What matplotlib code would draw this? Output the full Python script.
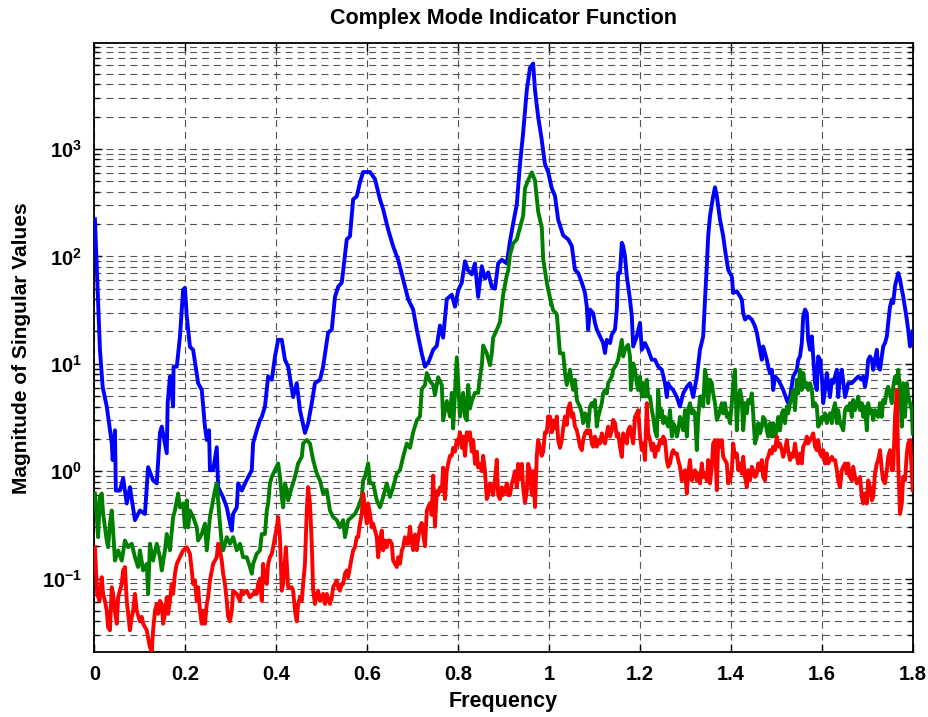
import numpy as np
import matplotlib
matplotlib.use("Agg")
import matplotlib.pyplot as plt

# (frequency, magnitude) samples of the three singular-value curves
blue_pts = [
    (0.001, 222), (0.012, 13.5), (0.018, 6.1), (0.027, 4.0), (0.038, 1.83), (0.040, 1.27),
    (0.045, 2.4), (0.047, 0.66), (0.056, 0.66), (0.063, 0.86), (0.071, 0.50), (0.078, 0.71),
    (0.089, 0.35), (0.100, 0.43), (0.111, 0.40), (0.118, 1.09), (0.129, 0.82), (0.137, 0.77),
    (0.144, 2.27), (0.148, 2.6), (0.159, 1.47), (0.161, 4.3), (0.166, 7.6), (0.173, 4.0),
    (0.174, 9.4), (0.181, 9.4), (0.188, 17.8), (0.195, 49), (0.199, 51), (0.203, 27.5),
    (0.210, 14.4), (0.217, 13.5), (0.228, 6.6), (0.236, 5.7), (0.243, 2.6), (0.247, 1.95),
    (0.252, 2.4), (0.254, 1.02), (0.261, 1.02), (0.269, 1.67), (0.272, 0.71), (0.283, 0.57),
    (0.291, 0.46), (0.298, 0.33), (0.302, 0.28), (0.305, 0.40), (0.313, 0.46), (0.316, 0.77),
    (0.324, 0.66), (0.331, 0.77), (0.346, 1.02), (0.349, 1.83), (0.357, 2.4), (0.364, 3.0),
    (0.368, 3.2), (0.375, 4.0), (0.382, 7.6), (0.390, 7.1), (0.397, 11.6), (0.404, 16.7),
    (0.412, 16.7), (0.419, 10.9), (0.426, 9.4), (0.437, 4.9), (0.445, 6.6), (0.452, 3.7),
    (0.463, 2.27), (0.470, 2.8), (0.478, 4.3), (0.485, 6.6), (0.496, 7.1), (0.503, 9.4),
    (0.514, 19.5), (0.522, 20.8), (0.529, 42), (0.536, 52), (0.544, 57), (0.555, 144),
    (0.562, 154), (0.569, 340), (0.577, 362), (0.584, 490), (0.591, 610), (0.599, 610),
    (0.606, 610), (0.617, 525), (0.628, 340), (0.635, 275), (0.646, 178), (0.657, 124),
    (0.668, 93), (0.679, 61), (0.690, 40), (0.701, 32), (0.709, 20.8), (0.720, 12.4),
    (0.727, 9.4), (0.735, 10.4), (0.745, 13.5), (0.753, 14.7), (0.760, 22.7), (0.767, 17.5),
    (0.775, 40), (0.786, 44), (0.793, 34), (0.800, 48), (0.808, 57), (0.815, 90),
    (0.822, 74), (0.830, 68), (0.837, 86), (0.844, 42), (0.852, 81), (0.859, 62),
    (0.866, 71), (0.874, 52), (0.881, 50), (0.888, 86), (0.896, 93), (0.907, 86),
    (0.914, 138), (0.921, 203), (0.929, 305), (0.936, 720), (0.943, 1420), (0.951, 3540),
    (0.958, 5700), (0.965, 6250), (0.969, 3540), (0.976, 1990), (0.983, 1290), (0.991, 720),
    (0.998, 610), (1.006, 430), (1.013, 365), (1.020, 220), (1.031, 157), (1.042, 144),
    (1.050, 125), (1.057, 75), (1.064, 70), (1.072, 57), (1.079, 45.7), (1.083, 34),
    (1.086, 20.8), (1.090, 32), (1.097, 29.6), (1.101, 24), (1.105, 20.8), (1.112, 18),
    (1.119, 15.6), (1.123, 12.6), (1.127, 16.7), (1.134, 15.6), (1.138, 18.7), (1.145, 20.8),
    (1.149, 32), (1.152, 70), (1.156, 70), (1.160, 134), (1.163, 125), (1.167, 100),
    (1.171, 65), (1.178, 39.6), (1.182, 27.6), (1.185, 14.5), (1.193, 18), (1.200, 24),
    (1.204, 13.5), (1.211, 15.6), (1.218, 13.5), (1.226, 10.9), (1.233, 10.9), (1.240, 9.4),
    (1.248, 8.8), (1.255, 6.6), (1.259, 4.9), (1.262, 6.6), (1.266, 6.1), (1.273, 5.7),
    (1.281, 4.9), (1.288, 4.0), (1.295, 5.3), (1.303, 6.1), (1.310, 6.6), (1.317, 4.9),
    (1.325, 7.6), (1.332, 13.5), (1.339, 18), (1.343, 39.6), (1.347, 81), (1.350, 155),
    (1.354, 237), (1.361, 365), (1.365, 440), (1.369, 365), (1.376, 220), (1.383, 155),
    (1.387, 116), (1.394, 75), (1.402, 65), (1.405, 45.7), (1.413, 47.3), (1.420, 42.5),
    (1.424, 39.6), (1.427, 29.6), (1.431, 25.8), (1.438, 27.6), (1.446, 25.8), (1.453, 22.3),
    (1.457, 19.4), (1.464, 13.5), (1.468, 10.9), (1.471, 14.5), (1.475, 12.6), (1.479, 10.9),
    (1.482, 9.4), (1.486, 8.2), (1.490, 8.8), (1.493, 5.7), (1.497, 7.6), (1.504, 7.1),
    (1.508, 6.6), (1.512, 6.1), (1.515, 5.7), (1.523, 4.6), (1.526, 4.3), (1.530, 4.9),
    (1.537, 7.6), (1.545, 8.8), (1.548, 10.9), (1.552, 11.7), (1.556, 15.6), (1.559, 27.6),
    (1.563, 32), (1.567, 29.6), (1.570, 16.7), (1.574, 13.5), (1.578, 18), (1.581, 11.7),
    (1.585, 6.6), (1.589, 5.7), (1.592, 11.7), (1.596, 10.9), (1.600, 7.6), (1.603, 4.3),
    (1.607, 5.7), (1.611, 8.2), (1.614, 6.6), (1.618, 4.9), (1.622, 7.1), (1.625, 6.6),
    (1.633, 8.8), (1.636, 4.9), (1.640, 7.6), (1.644, 8.8), (1.651, 4.9), (1.655, 5.7),
    (1.658, 6.6), (1.666, 6.6), (1.673, 7.1), (1.680, 7.6), (1.688, 7.1), (1.691, 7.6),
    (1.695, 6.1), (1.699, 7.6), (1.702, 10.9), (1.706, 11.7), (1.710, 10.9), (1.713, 8.8),
    (1.721, 13.5), (1.724, 9.4), (1.728, 8.8), (1.732, 11.7), (1.735, 14.5), (1.739, 15.6),
    (1.743, 18), (1.746, 24), (1.750, 34), (1.754, 39.6), (1.757, 36.8), (1.761, 53),
    (1.768, 70), (1.772, 61), (1.776, 49), (1.779, 42.5), (1.787, 25.8), (1.790, 20.8),
    (1.794, 14.5), (1.798, 16.7), (1.800, 20),
]

green_pts = [
    (0.001, 0.62), (0.005, 0.374), (0.008, 0.243), (0.012, 0.575), (0.016, 0.62), (0.019, 0.40),
    (0.023, 0.30), (0.027, 0.226), (0.030, 0.196), (0.034, 0.325), (0.038, 0.43), (0.041, 0.28),
    (0.045, 0.147), (0.052, 0.183), (0.060, 0.147), (0.067, 0.226), (0.074, 0.196), (0.082, 0.211),
    (0.089, 0.158), (0.096, 0.128), (0.100, 0.183), (0.107, 0.119), (0.115, 0.137), (0.118, 0.072),
    (0.122, 0.211), (0.129, 0.147), (0.137, 0.211), (0.144, 0.158), (0.148, 0.119), (0.155, 0.183),
    (0.159, 0.26), (0.166, 0.183), (0.173, 0.374), (0.177, 0.43), (0.184, 0.62), (0.188, 0.46),
    (0.195, 0.50), (0.199, 0.30), (0.203, 0.535), (0.206, 0.30), (0.210, 0.43), (0.217, 0.374),
    (0.225, 0.30), (0.228, 0.226), (0.236, 0.26), (0.243, 0.325), (0.247, 0.183), (0.254, 0.374),
    (0.258, 0.46), (0.265, 0.665), (0.269, 0.77), (0.272, 0.535), (0.276, 0.325), (0.280, 0.211),
    (0.283, 0.183), (0.291, 0.243), (0.298, 0.211), (0.305, 0.243), (0.313, 0.183), (0.320, 0.211),
    (0.327, 0.158), (0.335, 0.158), (0.342, 0.128), (0.346, 0.111), (0.349, 0.137), (0.357, 0.17),
    (0.364, 0.183), (0.368, 0.26), (0.375, 0.26), (0.379, 0.43), (0.382, 0.50), (0.386, 0.77),
    (0.390, 0.885), (0.397, 1.02), (0.404, 1.18), (0.408, 0.885), (0.412, 0.575), (0.415, 0.46),
    (0.419, 0.77), (0.423, 0.665), (0.426, 0.535), (0.434, 0.71), (0.441, 0.885), (0.448, 1.18),
    (0.456, 1.36), (0.459, 1.81), (0.467, 1.95), (0.474, 1.81), (0.481, 1.27), (0.489, 0.95),
    (0.496, 0.82), (0.503, 0.62), (0.511, 0.665), (0.518, 0.43), (0.525, 0.374), (0.533, 0.35),
    (0.540, 0.30), (0.547, 0.35), (0.551, 0.243), (0.558, 0.35), (0.566, 0.374), (0.573, 0.40),
    (0.580, 0.46), (0.588, 0.575), (0.591, 0.82), (0.595, 0.885), (0.602, 1.18), (0.606, 0.77),
    (0.613, 0.77), (0.621, 0.535), (0.628, 0.46), (0.635, 0.575), (0.643, 0.77), (0.650, 0.575),
    (0.657, 0.71), (0.665, 0.95), (0.672, 1.02), (0.679, 1.36), (0.687, 1.81), (0.694, 1.65),
    (0.701, 2.3), (0.709, 2.97), (0.716, 3.23), (0.720, 5.8), (0.727, 6.35), (0.731, 8.2),
    (0.738, 6.9), (0.745, 6.35), (0.749, 5.1), (0.756, 7.5), (0.764, 6.35), (0.767, 2.97),
    (0.775, 4.5), (0.782, 3.23), (0.786, 5.36), (0.789, 2.5), (0.797, 11.5), (0.804, 3.23),
    (0.811, 5.36), (0.815, 3.23), (0.819, 2.97), (0.822, 6.35), (0.826, 3.83), (0.830, 4.5),
    (0.837, 5.36), (0.844, 5.36), (0.848, 7.5), (0.852, 9.7), (0.855, 14.8), (0.863, 12.5),
    (0.870, 9.7), (0.874, 12.5), (0.877, 17.5), (0.885, 20.7), (0.892, 24.5), (0.896, 34),
    (0.899, 44), (0.907, 67), (0.910, 73), (0.914, 103), (0.921, 132), (0.929, 144),
    (0.936, 186), (0.943, 239), (0.947, 432), (0.954, 511), (0.962, 606), (0.969, 511),
    (0.976, 261), (0.984, 186), (0.987, 95), (0.995, 57), (1.002, 41), (1.009, 31.5),
    (1.017, 29), (1.024, 12.5), (1.031, 12.5), (1.035, 8.2), (1.039, 6.35), (1.046, 8.8),
    (1.050, 6.6), (1.053, 5.7), (1.057, 7.1), (1.061, 4.6), (1.064, 4.3), (1.068, 4.0),
    (1.072, 3.46), (1.075, 2.8), (1.079, 3.46), (1.083, 3.2), (1.086, 2.6), (1.090, 4.0),
    (1.094, 4.3), (1.097, 4.0), (1.101, 4.6), (1.105, 2.6), (1.108, 3.2), (1.112, 3.7),
    (1.116, 4.3), (1.119, 5.3), (1.123, 5.7), (1.127, 5.3), (1.130, 6.6), (1.134, 7.1),
    (1.138, 7.6), (1.141, 8.8), (1.145, 9.4), (1.149, 10.1), (1.152, 10.9), (1.156, 13.5),
    (1.160, 16.7), (1.163, 11.7), (1.167, 13.5), (1.171, 14.5), (1.174, 15), (1.178, 11.7),
    (1.180, 5.7), (1.185, 10.1), (1.189, 8.8), (1.193, 6.6), (1.196, 5.7), (1.200, 7.6),
    (1.204, 4.95), (1.207, 6.6), (1.211, 4.95), (1.215, 7.1), (1.218, 4.95), (1.222, 4.95),
    (1.226, 3.7), (1.229, 3.2), (1.233, 2.4), (1.237, 2.1), (1.240, 5.7), (1.244, 3.2),
    (1.248, 3.7), (1.251, 2.8), (1.255, 3.2), (1.259, 2.8), (1.262, 2.6), (1.266, 3.7),
    (1.270, 2.1), (1.273, 2.8), (1.277, 2.6), (1.281, 2.1), (1.284, 2.4), (1.288, 3.2),
    (1.292, 2.8), (1.295, 2.4), (1.299, 3.7), (1.303, 2.1), (1.306, 3.7), (1.310, 4.3),
    (1.314, 3.46), (1.317, 3.7), (1.321, 3.46), (1.325, 1.57), (1.328, 3.2), (1.332, 4.95),
    (1.336, 4.95), (1.339, 4.0), (1.343, 8.8), (1.347, 7.1), (1.350, 4.3), (1.354, 7.1),
    (1.358, 6.6), (1.361, 5.3), (1.365, 4.3), (1.369, 3.0), (1.372, 3.2), (1.376, 3.7),
    (1.380, 4.3), (1.383, 3.46), (1.387, 4.3), (1.391, 3.2), (1.394, 3.46), (1.398, 2.8),
    (1.402, 4.3), (1.405, 6.6), (1.409, 8.8), (1.413, 2.4), (1.416, 4.3), (1.420, 5.7),
    (1.424, 4.6), (1.427, 2.4), (1.431, 4.3), (1.435, 3.46), (1.438, 4.6), (1.442, 4.3),
    (1.446, 5.3), (1.449, 3.46), (1.453, 1.81), (1.457, 2.1), (1.460, 2.8), (1.464, 2.25),
    (1.468, 2.6), (1.471, 3.2), (1.475, 3.0), (1.479, 2.4), (1.482, 2.1), (1.486, 2.8),
    (1.490, 2.1), (1.493, 2.8), (1.497, 2.1), (1.501, 2.4), (1.504, 3.2), (1.508, 2.4),
    (1.512, 3.46), (1.515, 3.7), (1.519, 2.8), (1.523, 4.0), (1.526, 3.46), (1.530, 4.3),
    (1.534, 4.95), (1.537, 5.7), (1.541, 3.7), (1.545, 7.1), (1.548, 5.3), (1.552, 8.8),
    (1.556, 5.7), (1.559, 8.2), (1.563, 6.1), (1.567, 6.6), (1.570, 5.7), (1.574, 6.6),
    (1.578, 5.7), (1.581, 4.0), (1.585, 4.3), (1.589, 4.0), (1.592, 2.6), (1.596, 2.8),
    (1.600, 3.2), (1.603, 3.0), (1.607, 3.46), (1.611, 2.8), (1.614, 3.2), (1.618, 3.46),
    (1.622, 2.8), (1.625, 3.7), (1.629, 4.3), (1.633, 2.8), (1.636, 3.7), (1.640, 2.8),
    (1.644, 2.6), (1.647, 2.4), (1.651, 3.7), (1.655, 4.0), (1.658, 3.7), (1.662, 4.3),
    (1.666, 3.2), (1.669, 4.6), (1.673, 3.7), (1.677, 4.3), (1.680, 4.95), (1.684, 3.7),
    (1.688, 4.3), (1.691, 3.2), (1.695, 4.0), (1.699, 2.4), (1.702, 4.3), (1.706, 3.46),
    (1.710, 3.7), (1.713, 3.0), (1.717, 3.7), (1.721, 3.46), (1.724, 3.2), (1.728, 4.3),
    (1.732, 3.2), (1.735, 4.6), (1.739, 4.3), (1.743, 5.7), (1.746, 6.1), (1.750, 5.3),
    (1.754, 4.3), (1.757, 6.1), (1.761, 7.6), (1.765, 6.6), (1.768, 8.8), (1.772, 5.7),
    (1.776, 2.6), (1.779, 6.6), (1.783, 3.2), (1.787, 6.6), (1.790, 4.95), (1.794, 4.3),
    (1.798, 3.7), (1.800, 2.25),
]

red_pts = [
    (0.001, 0.196), (0.003, 0.128), (0.006, 0.072), (0.011, 0.062), (0.016, 0.103), (0.019, 0.072),
    (0.023, 0.062), (0.027, 0.050), (0.030, 0.035), (0.034, 0.033), (0.038, 0.083), (0.041, 0.072),
    (0.045, 0.050), (0.049, 0.038), (0.052, 0.067), (0.056, 0.077), (0.060, 0.089), (0.063, 0.119),
    (0.067, 0.128), (0.071, 0.062), (0.074, 0.047), (0.078, 0.033), (0.082, 0.044), (0.085, 0.050),
    (0.089, 0.072), (0.093, 0.050), (0.100, 0.040), (0.104, 0.044), (0.107, 0.038), (0.115, 0.033),
    (0.118, 0.028), (0.122, 0.023), (0.126, 0.021), (0.129, 0.033), (0.133, 0.050), (0.137, 0.058),
    (0.140, 0.047), (0.144, 0.062), (0.148, 0.058), (0.151, 0.038), (0.155, 0.047), (0.159, 0.067),
    (0.162, 0.047), (0.166, 0.062), (0.170, 0.089), (0.173, 0.072), (0.177, 0.111), (0.181, 0.137),
    (0.188, 0.158), (0.195, 0.183), (0.203, 0.196), (0.210, 0.17), (0.214, 0.119), (0.217, 0.089),
    (0.221, 0.096), (0.225, 0.062), (0.228, 0.083), (0.232, 0.050), (0.236, 0.038), (0.239, 0.050),
    (0.243, 0.038), (0.247, 0.058), (0.250, 0.067), (0.254, 0.096), (0.261, 0.137), (0.265, 0.147),
    (0.269, 0.158), (0.272, 0.211), (0.276, 0.183), (0.280, 0.147), (0.283, 0.111), (0.287, 0.089),
    (0.291, 0.062), (0.294, 0.044), (0.298, 0.040), (0.302, 0.050), (0.305, 0.077), (0.313, 0.072),
    (0.320, 0.062), (0.324, 0.077), (0.327, 0.072), (0.335, 0.077), (0.342, 0.067), (0.349, 0.072),
    (0.353, 0.077), (0.357, 0.072), (0.360, 0.089), (0.364, 0.10), (0.368, 0.062), (0.371, 0.137),
    (0.375, 0.096), (0.379, 0.089), (0.382, 0.137), (0.386, 0.158), (0.390, 0.17), (0.393, 0.196),
    (0.397, 0.243), (0.401, 0.30), (0.404, 0.374), (0.408, 0.243), (0.412, 0.077), (0.415, 0.089),
    (0.419, 0.147), (0.421, 0.196), (0.426, 0.083), (0.434, 0.083), (0.437, 0.077), (0.441, 0.050),
    (0.445, 0.040), (0.448, 0.058), (0.452, 0.067), (0.456, 0.062), (0.459, 0.089), (0.463, 0.137),
    (0.467, 0.43), (0.470, 0.71), (0.474, 0.50), (0.478, 0.211), (0.481, 0.077), (0.485, 0.058),
    (0.489, 0.072), (0.492, 0.077), (0.496, 0.062), (0.500, 0.067), (0.503, 0.072), (0.507, 0.058),
    (0.511, 0.072), (0.518, 0.058), (0.522, 0.067), (0.525, 0.083), (0.529, 0.089), (0.533, 0.096),
    (0.536, 0.083), (0.540, 0.077), (0.544, 0.089), (0.547, 0.089), (0.551, 0.111), (0.555, 0.119),
    (0.558, 0.103), (0.562, 0.128), (0.566, 0.158), (0.569, 0.183), (0.573, 0.196), (0.577, 0.243),
    (0.580, 0.243), (0.584, 0.325), (0.588, 0.40), (0.591, 0.62), (0.595, 0.46), (0.599, 0.325),
    (0.602, 0.50), (0.606, 0.40), (0.610, 0.30), (0.613, 0.325), (0.617, 0.28), (0.621, 0.243),
    (0.624, 0.158), (0.628, 0.226), (0.632, 0.28), (0.635, 0.183), (0.639, 0.226), (0.643, 0.196),
    (0.646, 0.226), (0.650, 0.226), (0.654, 0.211), (0.657, 0.147), (0.665, 0.128), (0.668, 0.158),
    (0.672, 0.137), (0.676, 0.183), (0.679, 0.196), (0.683, 0.243), (0.687, 0.211), (0.690, 0.211),
    (0.694, 0.304), (0.698, 0.217), (0.701, 0.184), (0.705, 0.257), (0.709, 0.184), (0.712, 0.236),
    (0.716, 0.304), (0.720, 0.33), (0.723, 0.257), (0.727, 0.20), (0.731, 0.426), (0.734, 0.464),
    (0.738, 0.505), (0.742, 0.392), (0.745, 0.91), (0.749, 0.304), (0.753, 0.65), (0.756, 0.60),
    (0.760, 0.707), (0.764, 0.65), (0.767, 1.08), (0.771, 0.55), (0.775, 1.0), (0.778, 1.17),
    (0.782, 1.39), (0.786, 1.39), (0.789, 1.65), (0.793, 1.52), (0.797, 1.95), (0.800, 1.8),
    (0.804, 2.3), (0.808, 1.65), (0.811, 2.1), (0.815, 1.39), (0.819, 2.3), (0.822, 1.95),
    (0.826, 2.3), (0.830, 1.52), (0.833, 1.95), (0.837, 1.17), (0.841, 1.52), (0.844, 1.08),
    (0.848, 1.17), (0.852, 1.0), (0.855, 1.39), (0.859, 1.0), (0.863, 0.55), (0.866, 0.60),
    (0.870, 0.77), (0.874, 0.707), (0.877, 0.60), (0.881, 0.84), (0.885, 1.28), (0.888, 0.60),
    (0.892, 0.55), (0.896, 0.707), (0.899, 0.60), (0.903, 0.65), (0.907, 0.77), (0.910, 0.60),
    (0.914, 0.60), (0.918, 0.77), (0.921, 0.84), (0.925, 1.0), (0.929, 0.707), (0.932, 1.17),
    (0.936, 0.84), (0.940, 1.17), (0.943, 0.707), (0.947, 0.505), (0.951, 0.65), (0.954, 1.17),
    (0.958, 1.0), (0.962, 0.60), (0.965, 1.0), (0.969, 0.464), (0.973, 1.39), (0.976, 1.95),
    (0.980, 1.65), (0.984, 1.39), (0.987, 1.52), (0.991, 2.3), (0.995, 2.3), (0.998, 3.23),
    (1.002, 3.23), (1.006, 2.3), (1.009, 2.97), (1.013, 2.5), (1.017, 3.23), (1.020, 1.95),
    (1.024, 1.65), (1.028, 1.95), (1.031, 2.5), (1.035, 3.23), (1.039, 2.7), (1.042, 3.83),
    (1.046, 4.3), (1.050, 3.2), (1.053, 3.46), (1.057, 2.6), (1.061, 2.4), (1.064, 2.1),
    (1.068, 1.69), (1.072, 1.57), (1.075, 1.95), (1.079, 2.25), (1.083, 2.4), (1.086, 2.25),
    (1.090, 2.4), (1.094, 1.81), (1.097, 1.69), (1.101, 2.1), (1.105, 1.69), (1.108, 1.95),
    (1.112, 1.81), (1.116, 2.25), (1.119, 1.95), (1.123, 1.81), (1.127, 2.25), (1.130, 2.6),
    (1.134, 2.1), (1.138, 2.4), (1.141, 3.0), (1.145, 2.8), (1.149, 2.1), (1.152, 2.25),
    (1.156, 1.69), (1.160, 1.36), (1.163, 2.25), (1.167, 2.1), (1.171, 1.81), (1.174, 2.4),
    (1.178, 2.6), (1.182, 2.1), (1.185, 1.81), (1.189, 3.2), (1.193, 3.46), (1.196, 3.7),
    (1.200, 2.1), (1.204, 1.57), (1.207, 1.81), (1.211, 1.27), (1.215, 4.3), (1.218, 2.25),
    (1.222, 1.95), (1.226, 1.57), (1.229, 1.81), (1.233, 1.36), (1.237, 1.69), (1.240, 1.57),
    (1.244, 1.95), (1.248, 1.81), (1.251, 2.1), (1.255, 1.95), (1.259, 1.27), (1.262, 1.10),
    (1.266, 1.18), (1.270, 1.46), (1.273, 1.57), (1.277, 1.46), (1.281, 1.46), (1.284, 1.27),
    (1.288, 1.10), (1.292, 0.82), (1.295, 0.95), (1.299, 1.02), (1.303, 0.62), (1.306, 0.95),
    (1.310, 1.27), (1.314, 0.82), (1.317, 0.95), (1.321, 1.02), (1.325, 0.82), (1.328, 0.95),
    (1.332, 0.77), (1.336, 1.18), (1.339, 0.885), (1.343, 0.95), (1.347, 0.82), (1.350, 1.27),
    (1.354, 0.77), (1.358, 1.10), (1.361, 1.81), (1.365, 1.95), (1.369, 0.665), (1.372, 1.95),
    (1.376, 1.69), (1.380, 1.95), (1.383, 1.36), (1.387, 1.27), (1.391, 1.18), (1.394, 0.77),
    (1.398, 0.82), (1.402, 1.02), (1.405, 1.81), (1.409, 1.36), (1.413, 1.46), (1.416, 1.02),
    (1.420, 1.18), (1.424, 0.95), (1.427, 1.36), (1.431, 0.885), (1.435, 0.71), (1.438, 1.02),
    (1.442, 0.82), (1.446, 1.10), (1.449, 1.02), (1.453, 0.885), (1.457, 0.95), (1.460, 1.18),
    (1.464, 1.02), (1.468, 1.27), (1.471, 0.885), (1.475, 0.82), (1.479, 1.27), (1.482, 1.36),
    (1.486, 1.57), (1.490, 1.46), (1.493, 1.69), (1.497, 1.57), (1.501, 2.1), (1.504, 1.69),
    (1.508, 1.81), (1.512, 1.57), (1.515, 1.36), (1.519, 1.57), (1.523, 1.95), (1.526, 1.57),
    (1.530, 1.27), (1.534, 1.46), (1.537, 1.36), (1.541, 1.81), (1.545, 1.36), (1.548, 1.18),
    (1.552, 1.46), (1.556, 1.18), (1.559, 1.69), (1.563, 1.81), (1.567, 2.1), (1.570, 1.81),
    (1.574, 1.95), (1.578, 2.1), (1.581, 2.25), (1.585, 1.69), (1.589, 1.57), (1.592, 1.95),
    (1.596, 1.46), (1.600, 1.36), (1.603, 1.57), (1.607, 1.18), (1.611, 1.46), (1.614, 1.18),
    (1.618, 1.27), (1.622, 1.36), (1.625, 1.27), (1.629, 1.27), (1.633, 1.02), (1.636, 0.82),
    (1.640, 0.71), (1.644, 1.02), (1.647, 1.10), (1.651, 1.18), (1.655, 0.95), (1.658, 1.18),
    (1.662, 0.885), (1.666, 0.82), (1.669, 1.10), (1.673, 0.885), (1.677, 0.77), (1.680, 0.82),
    (1.684, 0.885), (1.688, 0.575), (1.691, 0.50), (1.695, 0.62), (1.699, 0.50), (1.702, 0.82),
    (1.706, 0.71), (1.710, 0.535), (1.713, 0.575), (1.717, 0.95), (1.721, 1.18), (1.724, 1.27),
    (1.728, 1.57), (1.732, 1.02), (1.735, 0.82), (1.739, 0.77), (1.743, 1.02), (1.746, 1.36),
    (1.750, 1.57), (1.754, 1.02), (1.757, 1.02), (1.761, 3.2), (1.765, 5.7), (1.768, 1.18),
    (1.772, 0.40), (1.776, 0.50), (1.779, 0.885), (1.783, 0.82), (1.787, 1.46), (1.790, 1.81),
    (1.794, 1.95), (1.798, 0.95), (1.800, 0.665),
]

x_ticks = [0, 0.2, 0.4, 0.6, 0.8, 1.0, 1.2, 1.4, 1.6, 1.8]
x_tick_labels = ["0", "0.2", "0.4", "0.6", "0.8", "1", "1.2", "1.4", "1.6", "1.8"]
y_ticks = [0.1, 1, 10, 100, 1000]
y_tick_labels = [r"$\mathbf{10^{-1}}$", r"$\mathbf{10^{0}}$", r"$\mathbf{10^{1}}$",
                 r"$\mathbf{10^{2}}$", r"$\mathbf{10^{3}}$"]

plt.rcParams["font.family"] = ["Liberation Sans", "DejaVu Sans"]
plt.rcParams["font.weight"] = "bold"
plt.rcParams["mathtext.fontset"] = "custom"
plt.rcParams["mathtext.rm"] = "Liberation Sans:bold"
plt.rcParams["mathtext.bf"] = "Liberation Sans:bold"
plt.rcParams["lines.scale_dashes"] = False

fig = plt.figure(figsize=(9.29, 7.17), dpi=100)
ax = fig.add_axes([0.1017, 0.0900, 0.8808, 0.8500])

for pts, color in [(blue_pts, "#0000ff"), (green_pts, "#008000"), (red_pts, "#ff0000")]:
    f, m = np.array(pts).T
    ax.plot(f, m, color=color, lw=2.8, solid_joinstyle="round", zorder=3)

ax.set_yscale("log")
ax.set_xlim(0, 1.8)
ax.set_ylim(0.0205, 9700)

ax.set_xticks(x_ticks)
ax.set_xticklabels(x_tick_labels)
ax.set_yticks(y_ticks)
ax.set_yticklabels(y_tick_labels)
ax.minorticks_on()
ax.xaxis.set_minor_locator(matplotlib.ticker.NullLocator())

ax.tick_params(which="both", direction="in", top=True, right=True, colors="black",
               labelsize=14.5, width=1)
ax.tick_params(which="major", length=6, pad=9)
ax.tick_params(which="minor", length=3.5)
for lab in ax.get_xticklabels() + ax.get_yticklabels():
    lab.set_fontweight("bold")

grid_style = dict(color="#555555", lw=0.8, linestyle=(0, (5, 3.6)))
ax.grid(True, which="major", axis="both", **grid_style)
ax.grid(True, which="minor", axis="y", **grid_style)
ax.set_axisbelow(True)

for sp in ax.spines.values():
    sp.set_linewidth(1.3)
    sp.set_color("black")

ax.set_title("Complex Mode Indicator Function", fontsize=15.5, fontweight="bold", pad=13.5)
ax.set_xlabel("Frequency", fontsize=15.5, fontweight="bold", labelpad=5)
ax.set_ylabel("Magnitude of Singular Values", fontsize=15, fontweight="bold", labelpad=8)

fig.savefig("out.png", dpi=100)
